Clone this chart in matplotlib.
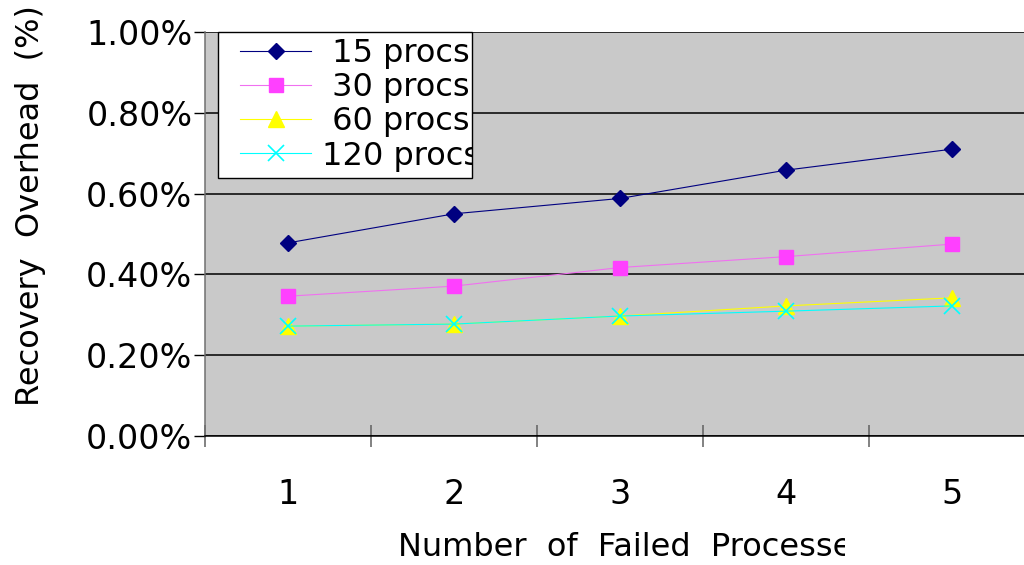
import matplotlib
matplotlib.use("Agg")
import matplotlib.pyplot as plt
from matplotlib.patches import Rectangle
from matplotlib.ticker import FixedLocator, PercentFormatter

# ─────────────────────────────────────────────────────────────
# Data (recovery overhead, percent)
# ─────────────────────────────────────────────────────────────
failed = [1, 2, 3, 4, 5]
procs_15 = [0.478, 0.550, 0.588, 0.658, 0.710]
procs_30 = [0.346, 0.371, 0.417, 0.444, 0.475]
procs_60 = [0.272, 0.277, 0.297, 0.322, 0.342]
procs_120 = [0.272, 0.277, 0.297, 0.309, 0.322]
y_ticks = [0.0, 0.2, 0.4, 0.6, 0.8, 1.0]

plt.rcParams["font.family"] = "DejaVu Sans"

W, H = 1024, 565
fig = plt.figure(figsize=(W / 100, H / 100), dpi=100)
ax = fig.add_axes([205 / W, 129 / H, 830 / W, 404 / H])
ax.set_facecolor("#c9c9c9")

# ─────────────────────────────────────────────────────────────
# Series
# ─────────────────────────────────────────────────────────────
ax.plot(failed, procs_15, color="#000080", lw=0.8, marker="D", ms=8,
        label=" 15 procs", zorder=3)
ax.plot(failed, procs_30, color="#f070f0", lw=0.8, marker="s", ms=10,
        mfc="#ff40ff", mec="#ff40ff", label=" 30 procs", zorder=3)
ax.plot(failed, procs_60, color="#ffff00", lw=0.8, marker="^", ms=11,
        label=" 60 procs", zorder=3)
ax.plot(failed, procs_120, color="#00ffff", lw=0.8, marker="x", ms=11,
        mew=1.2, label="120 procs", zorder=4)

# ─────────────────────────────────────────────────────────────
# Axes, ticks and grid
# ─────────────────────────────────────────────────────────────
ax.set_xlim(0.5, 5.5)
ax.set_ylim(0, 1.0)
ax.set_xticks(failed)
ax.xaxis.set_minor_locator(FixedLocator([0.5, 1.5, 2.5, 3.5, 4.5, 5.5]))
ax.tick_params(axis="x", which="major", length=0, pad=30, labelsize=24)
ax.tick_params(axis="x", which="minor", direction="inout", length=16,
               width=1.1, color="#606060")
ax.set_yticks(y_ticks)
ax.yaxis.set_major_formatter(PercentFormatter(decimals=2))
ax.tick_params(axis="y", direction="out", length=8, width=1, color="black",
               pad=1, labelsize=24)

ax.yaxis.grid(True, color="black", lw=1.1)
ax.set_axisbelow(True)
for side in ("top", "right"):
    ax.spines[side].set_visible(False)
ax.spines["left"].set_color("#707070")
ax.spines["left"].set_linewidth(1.1)
ax.spines["bottom"].set_color("black")
ax.spines["bottom"].set_linewidth(1.1)

# ─────────────────────────────────────────────────────────────
# Legend: white box drawn separately, entries from ax.legend
# ─────────────────────────────────────────────────────────────
box = Rectangle((218 / W, 1 - 178 / H), (472 - 218) / W, (178 - 32) / H,
                transform=fig.transFigure, facecolor="white",
                edgecolor="black", lw=1.0, zorder=5, clip_on=False)
ax.add_artist(box)
leg = ax.legend(loc="upper left", bbox_to_anchor=(240 / W, 1 - 38 / H),
                bbox_transform=fig.transFigure, borderaxespad=0,
                borderpad=0, fontsize=23, frameon=False,
                labelspacing=0.1, handlelength=2.23, handletextpad=0.35)
leg.set_zorder(6)
for t in leg.get_texts():
    t.set_clip_path(box)

# ─────────────────────────────────────────────────────────────
# Axis labels (x label clipped as in the original)
# ─────────────────────────────────────────────────────────────
fig.text(31 / W, 1 - 206 / H, "Recovery  Overhead  (%)", rotation=90,
         ha="center", va="center", fontsize=23)
xl = fig.text(398 / W, 1 - 548 / H, "Number  of  Failed  Processes",
              ha="left", va="center", fontsize=23)
clip = Rectangle((0, 0), 845 / W, 1, transform=fig.transFigure,
                 visible=False)
fig.add_artist(clip)
xl.set_clip_path(clip)

fig.savefig("out.png", dpi=100)
